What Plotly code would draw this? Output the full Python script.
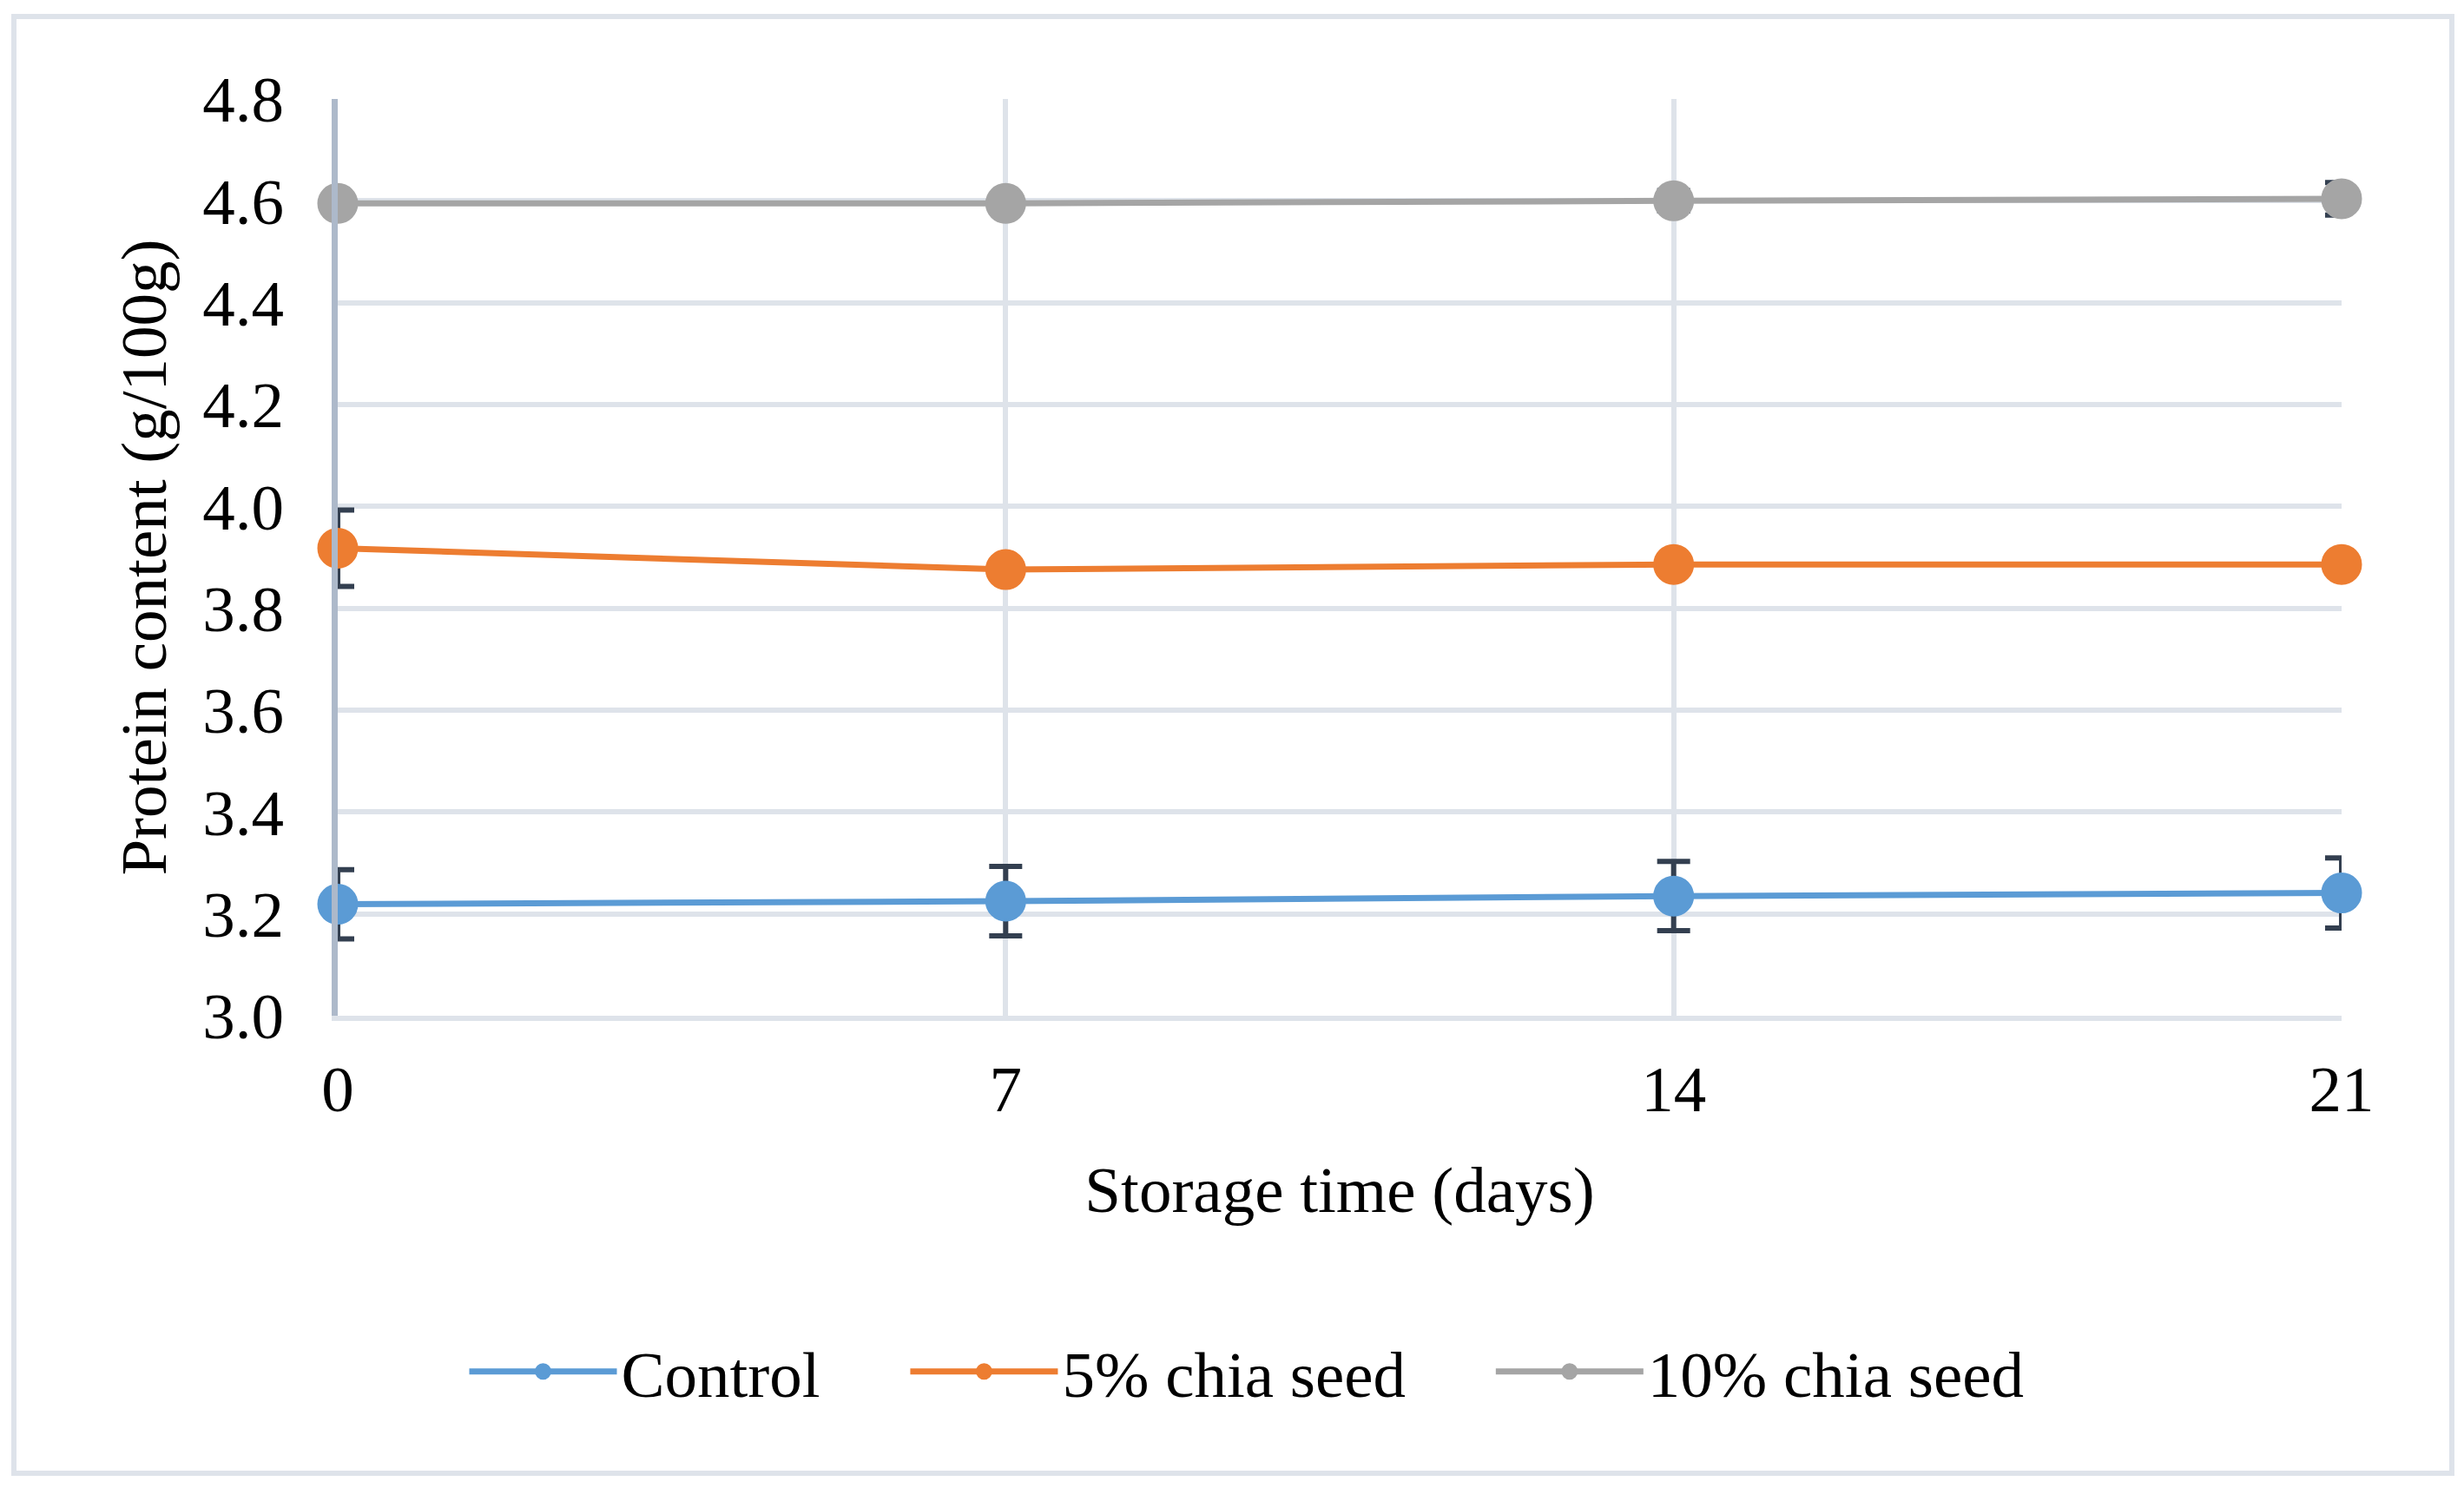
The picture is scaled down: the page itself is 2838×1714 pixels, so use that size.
import plotly.graph_objects as go

# ---- data ----
days = [0, 7, 14, 21]
series_names = ["Control", "5% chia seed", "10% chia seed"]
control = [3.219, 3.225, 3.235, 3.241]
control_err = [0.068, 0.068, 0.068, 0.069]
chia5 = [3.918, 3.876, 3.886, 3.886]
chia5_err = [0.075, 0.015, 0.015, 0.015]
chia10 = [4.595, 4.595, 4.600, 4.604]
chia10_err = [0.015, 0.015, 0.020, 0.032]
x_ticks = [0, 7, 14, 21]
y_ticks = [3.0, 3.2, 3.4, 3.6, 3.8, 4.0, 4.2, 4.4, 4.6, 4.8]

# ---- styling ----
W, H = 2838, 1714
OFF = 8                                    # default page body margin
FW, FH = W - 2 * OFF, H - 2 * OFF          # figure size
L, R, T, B = 389, 2697, 114, 1170          # plot area in screen pixels
FONT = "Liberation Serif, Times New Roman, serif"
FS = 75
colors = ["#5b9bd5", "#ed7d31", "#a5a5a5"]
err_color = "#333f50"
grid_color = "#dee3ea"
axis_color = "#adb9ca"

pw, ph = R - L, B - T
def px_x(p):
    return (p - L) / pw
def px_y(p):
    return (B - p) / ph

fig = go.Figure()
values = [control, chia5, chia10]
errors = [control_err, chia5_err, chia10_err]
legend_pad = ["\u00a0" * 5, "\u00a0" * 5, ""]

# error bars (clipped to plot area, like the reference)
for name, vals, errs, c in zip(series_names, values, errors, colors):
    fig.add_trace(go.Scatter(
        x=days, y=vals, mode="markers",
        marker=dict(size=1, opacity=0),
        error_y=dict(type="data", array=errs, visible=True,
                     color=err_color, thickness=6, width=19),
        cliponaxis=True, showlegend=False, hoverinfo="skip",
    ))

# lines + markers (not clipped)
for name, pad, vals, c in zip(series_names, legend_pad, values, colors):
    fig.add_trace(go.Scatter(
        x=days, y=vals, mode="lines+markers", name=name + pad,
        line=dict(color=c, width=7),
        marker=dict(color=c, size=44, line=dict(color=c, width=3)),
        cliponaxis=False,
    ))

# outer chart border
fig.add_shape(type="rect", xref="paper", yref="paper",
              x0=px_x(16), x1=px_x(2824), y0=px_y(1697), y1=px_y(19),
              line=dict(color=grid_color, width=6), fillcolor="rgba(0,0,0,0)",
              layer="below")

fig.update_layout(
    width=FW, height=FH,
    margin=dict(l=L - OFF, r=FW - (R - OFF), t=T - OFF, b=FH - (B - OFF), pad=0),
    paper_bgcolor="white", plot_bgcolor="white",
    font=dict(family=FONT, size=FS, color="black"),
    showlegend=True,
    legend=dict(orientation="h", x=px_x(1436), xanchor="center",
                y=px_y(1580), yanchor="middle",
                font=dict(family=FONT, size=FS, color="black"),
                itemwidth=170, bgcolor="rgba(0,0,0,0)"),
    xaxis=dict(range=[0, 21], tickmode="array", tickvals=x_ticks,
               ticktext=[str(v) for v in x_ticks],
               showgrid=True, gridcolor=grid_color, gridwidth=6,
               showline=True, linecolor=grid_color, linewidth=6,
               zeroline=False, ticks="", ticklabelstandoff=14,
               tickfont=dict(family=FONT, size=FS, color="black"),
               title=dict(text="Storage time (days)", standoff=50,
                          font=dict(family=FONT, size=FS, color="black"))),
    yaxis=dict(range=[3.0, 4.8], tickmode="array", tickvals=y_ticks,
               ticktext=[f"{v:.1f}" for v in y_ticks],
               showgrid=True, gridcolor=grid_color, gridwidth=6,
               showline=True, linecolor=axis_color, linewidth=7,
               zeroline=False, ticks="", ticklabelstandoff=40,
               tickfont=dict(family=FONT, size=FS, color="black"),
               title=dict(text="Protein content (g/100g)", standoff=20,
                          font=dict(family=FONT, size=FS, color="black"))),
)

fig.write_html("out.html")
